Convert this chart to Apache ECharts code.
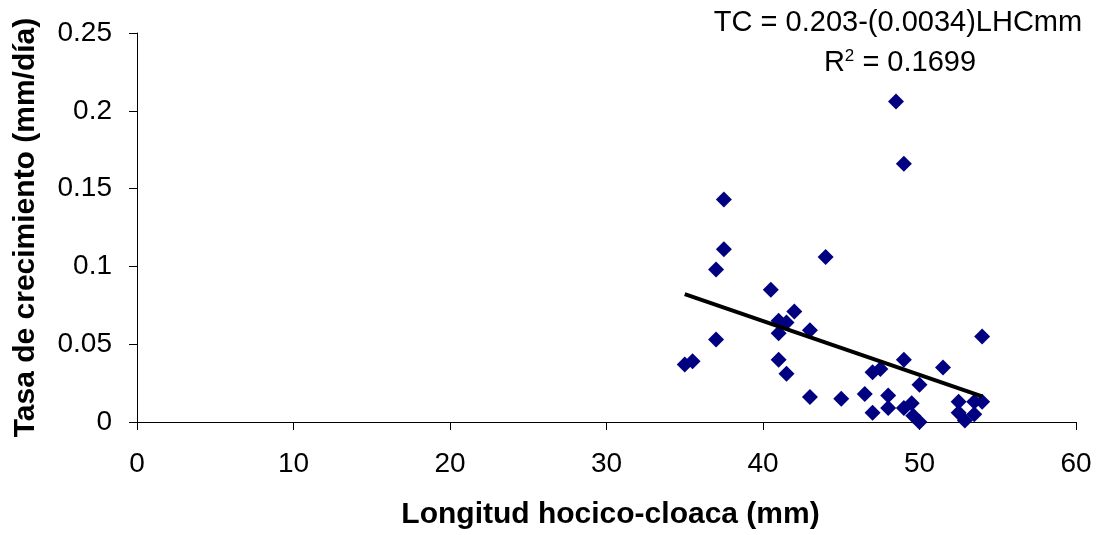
<!DOCTYPE html>
<html>
<head>
<meta charset="utf-8">
<script src="https://cdn.jsdelivr.net/npm/echarts@6/dist/echarts.min.js"></script>
<style>
html,body{margin:0;padding:0;background:#fff;}
#chart{width:1099px;height:535px;}
</style>
</head>
<body>
<div id="chart"></div>
<script>
// Data
const lhc = [37.5, 37.5, 37.0, 44.0, 40.5, 42.0, 41.0, 41.5, 41.0, 43.0, 37.0, 35.0, 35.5, 41.0, 41.5,
             43.0, 45.0, 46.5, 47.0, 47.5, 47.0, 48.0, 48.0, 49.0, 49.0, 49.5, 49.6, 50.0, 50.0, 51.5,
             52.5, 52.5, 52.9, 53.5, 53.5, 54.0, 54.0, 48.5, 49.0];
const tc  = [0.143, 0.111, 0.098, 0.106, 0.085, 0.071, 0.065, 0.064, 0.057, 0.059, 0.053, 0.037, 0.039, 0.040, 0.031,
             0.016, 0.015, 0.018, 0.032, 0.034, 0.006, 0.017, 0.009, 0.040, 0.009, 0.012, 0.004, 0.000, 0.024, 0.035,
             0.013, 0.006, 0.001, 0.005, 0.013, 0.013, 0.055, 0.206, 0.166];
const fitX = [35, 54];
const fitY = [0.0822, 0.0165];
const xTicks = [0, 10, 20, 30, 40, 50, 60];
const yTicks = [0, 0.05, 0.1, 0.15, 0.2, 0.25];
const eqText = 'TC = 0.203-(0.0034)LHCmm';
const r2Value = '0.1699';

const pts = lhc.map((x, i) => [x, tc[i]]);
const fitPts = fitX.map((x, i) => [x, fitY[i]]);
const font = '"Liberation Sans", Arial, sans-serif';

const chart = echarts.init(document.getElementById('chart'));
chart.setOption({
  animation: false,
  backgroundColor: '#fff',
  grid: { left: 137, right: 23, top: 33, bottom: 113 },
  xAxis: {
    type: 'value', min: xTicks[0], max: xTicks[xTicks.length - 1], interval: 10,
    name: 'Longitud hocico-cloaca (mm)', nameLocation: 'middle', nameGap: 78,
    nameTextStyle: { fontFamily: font, fontSize: 30, fontWeight: 'bold', color: '#000', padding: [0, 0, 0, 8] },
    axisLine: { lineStyle: { color: '#000', width: 1 } },
    axisTick: { show: true, inside: false, length: 8, lineStyle: { color: '#000' } },
    axisLabel: { fontFamily: font, fontSize: 28, color: '#000', margin: 28 },
    splitLine: { show: false }
  },
  yAxis: {
    type: 'value', min: yTicks[0], max: yTicks[yTicks.length - 1], interval: 0.05,
    name: 'Tasa de crecimiento (mm/día)', nameLocation: 'middle', nameGap: 96, nameRotate: 90,
    nameTextStyle: { fontFamily: font, fontSize: 30, fontWeight: 'bold', color: '#000' },
    axisLine: { show: true, lineStyle: { color: '#000', width: 1 } },
    axisTick: { show: true, inside: false, length: 8, lineStyle: { color: '#000' } },
    axisLabel: { fontFamily: font, fontSize: 28, color: '#000', margin: 25,
      formatter: v => String(parseFloat(v.toFixed(2))) },
    splitLine: { show: false }
  },
  series: [
    {
      type: 'scatter', data: pts, symbol: 'diamond', symbolSize: [16, 16],
      itemStyle: { color: '#000080', opacity: 1 }, z: 2
    },
    {
      type: 'line', data: fitPts, symbol: 'none',
      lineStyle: { color: '#000', width: 4 }, z: 3
    }
  ],
  graphic: [
    {
      type: 'text', x: 898, y: 8,
      style: { text: eqText, fontFamily: font, fontSize: 29, fill: '#000', textAlign: 'center', textVerticalAlign: 'top' }
    },
    {
      type: 'text', x: 900, y: 48,
      style: {
        text: '{a|R}{s|2}{a| = ' + r2Value + '}',
        textAlign: 'center', textVerticalAlign: 'top',
        rich: {
          a: { fontFamily: font, fontSize: 29, fill: '#000', verticalAlign: 'bottom' },
          s: { fontFamily: font, fontSize: 17, fill: '#000', verticalAlign: 'top' }
        }
      }
    }
  ]
});
</script>
</body>
</html>
